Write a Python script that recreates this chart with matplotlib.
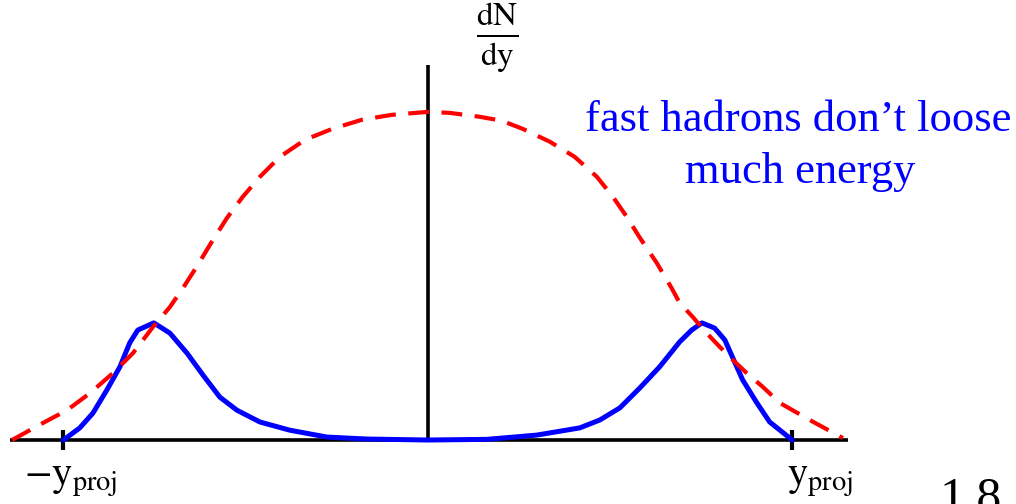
import numpy as np
import matplotlib
matplotlib.use("Agg")
import matplotlib.pyplot as plt

plt.rcParams['font.family'] = ['Liberation Serif', 'DejaVu Serif']
plt.rcParams['mathtext.fontset'] = 'stix'

# rapidity in units of y_proj, dN/dy normalised to the peak of the initial distribution
y_initial = [-1.141, -1.056, -0.990, -0.927, -0.864, -0.809, -0.754, -0.708, -0.672,
             -0.631, -0.593, -0.551, -0.508, -0.461, -0.406, -0.337, -0.263, -0.181,
             -0.099, 0.0, 0.060, 0.143, 0.203, 0.261, 0.335, 0.403, 0.464, 0.508,
             0.546, 0.582, 0.628, 0.669, 0.691, 0.727, 0.765, 0.801, 0.837, 0.875,
             0.919, 0.966, 1.048, 1.139]
dndy_initial = [0.0, 0.052, 0.091, 0.143, 0.204, 0.265, 0.345, 0.405, 0.463,
                0.534, 0.604, 0.677, 0.741, 0.802, 0.863, 0.915, 0.948, 0.976,
                0.991, 1.0, 0.997, 0.985, 0.973, 0.948, 0.909, 0.863, 0.802, 0.741,
                0.680, 0.616, 0.540, 0.463, 0.418, 0.375, 0.326, 0.284, 0.244, 0.204,
                0.162, 0.113, 0.061, 0.006]

y_final = [-1.0, -0.955, -0.919, -0.881, -0.845, -0.818, -0.796, -0.752, -0.708,
           -0.661, -0.617, -0.571, -0.524, -0.461, -0.379, -0.277, -0.167, 0.0,
           0.162, 0.299, 0.417, 0.472, 0.527, 0.582, 0.636, 0.691, 0.724, 0.752,
           0.787, 0.815, 0.837, 0.864, 0.903, 0.938, 1.0]
dndy_final = [0.0, 0.037, 0.082, 0.152, 0.223, 0.296, 0.335, 0.357, 0.326,
              0.265, 0.198, 0.131, 0.091, 0.055, 0.030, 0.009, 0.003, 0.0,
              0.002, 0.015, 0.037, 0.061, 0.098, 0.159, 0.223, 0.299, 0.335, 0.357,
              0.341, 0.305, 0.250, 0.183, 0.113, 0.055, 0.0]

tick_pos = [-1.0, 1.0]
tick_labels = [r'$-\mathrm{y}_{\mathrm{proj}}$', r'$\mathrm{y}_{\mathrm{proj}}$']

fig = plt.figure(figsize=(10.16, 5.04), dpi=100)
ax = fig.add_axes([0, 0, 1, 1])
ax.set_xlim(-1.174, 1.614)
ax.set_ylim(-0.195, 1.341)
ax.axis('off')

# axes drawn by hand: baseline, central dN/dy axis, y_proj ticks
ax.plot([-1.147, 1.152], [0, 0], color='black', lw=2.6, solid_capstyle='butt', zorder=1)
ax.plot([0, 0], [0, 1.143], color='black', lw=2.6, solid_capstyle='butt', zorder=1)
for t in tick_pos:
    ax.plot([t, t], [-0.03, 0.03], color='black', lw=3, solid_capstyle='butt', zorder=1)

ax.plot(y_initial, dndy_initial, color='red', lw=3, dashes=(5, 3), zorder=3)
ax.plot(y_final, dndy_final, color='blue', lw=3.6, solid_joinstyle='round',
        solid_capstyle='round', zorder=2)

ax.text(-0.979, -0.122, tick_labels[0], fontsize=29, ha='center', va='center')
ax.text(0.985, -0.122, tick_labels[1], fontsize=29, ha='left', va='center')

ax.text(497 / 1016, 1 - 38 / 504, r'$\frac{\mathrm{dN}}{\mathrm{dy}}$', fontsize=34,
        ha='center', va='center', transform=fig.transFigure)

ax.text(798 / 1016, 1 - 120 / 504, 'fast hadrons don\u2019t loose', color='blue',
        fontsize=32, ha='center', va='center', transform=fig.transFigure)
ax.text(800 / 1016, 1 - 172 / 504, 'much energy', color='blue',
        fontsize=32, ha='center', va='center', transform=fig.transFigure)

ax.text(940 / 1016, -8 / 504, '1.8', fontsize=36, ha='left', va='baseline',
        transform=fig.transFigure)

fig.savefig('out.png', dpi=100)
